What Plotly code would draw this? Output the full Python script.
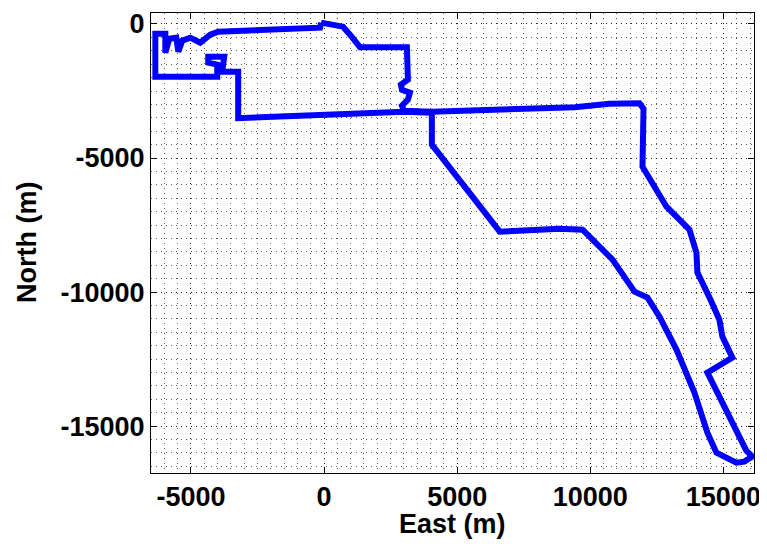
import plotly.graph_objects as go

# Trajectory (metres)
east = [-110, 225, 712, 975, 1350, 3112, 3150, 2887, 2925, 3225, 3150, 2925, 3000,
        4050, 5475, 9412, 10725, 11850, 12000, 11962, 12862, 13725, 13987, 14025,
        14500, 14850, 14962, 15150, 15337, 14400, 15487, 15862, 16087, 15787, 15487,
        14737, 14400, 13912, 13237, 12600, 12150, 11662, 10837, 9712, 8850, 6600,
        4050, 4050, 3000, -150, -3225, -3225, -3825, -3750, -4350, -4350, -4012,
        -4012, -6337, -6337, -5962, -5962, -5812, -5550, -5475, -5325, -5025, -4650,
        -4275, -3975, -2400, -150, -110]
north = [50, -10, -100, -400, -865, -865, -2078, -2264, -2451, -2563, -2824, -3048, -3234,
         -3272, -3215, -3103, -2973, -2954, -3159, -5323, -6815, -7673, -8530, -9276,
         -10250, -11030, -11664, -12100, -12447, -13006, -15244, -15915, -16139, -16326, -16363,
         -15990, -15244, -13752, -12148, -10917, -10208, -9985, -8791, -7672, -7635, -7747,
         -4502, -3309, -3272, -3384, -3514, -1779, -1779, -1220, -1220, -1443, -1518,
         -1966, -1966, -362, -362, -1070, -548, -511, -1033, -623, -511, -698,
         -399, -287, -213, -138, 50]

x_tickvals = [-5000, 0, 5000, 10000, 15000]
x_ticktext = ["-5000", "0", "5000", "10000", "15000"]
y_tickvals = [0, -5000, -10000, -15000]
y_ticktext = ["0", "-5000", "-10000", "-15000"]

x_title = "East (m)"
y_title = "North (m)"

font = dict(family="Liberation Sans, Arial, sans-serif", size=27, color="black", weight="bold")
dash = "1px,4px"
gcol = "rgba(0,0,0,0.65)"

fig = go.Figure()
fig.add_trace(go.Scatter(x=east, y=north, mode="lines",
                         line=dict(color="rgb(0,0,255)", width=6),
                         showlegend=False, hoverinfo="skip"))

axis_common = dict(
    showline=True, linecolor="black", linewidth=1, mirror="ticks",
    ticks="inside", ticklen=6, tickcolor="black", tickwidth=1,
    showgrid=True, gridcolor=gcol, gridwidth=1, griddash=dash,
    zeroline=False, tickfont=font, automargin=False,
    minor=dict(dtick=500, tick0=0, showgrid=True, gridcolor=gcol,
               gridwidth=1, griddash=dash, ticks=""),
)

fig.update_xaxes(range=[-6500, 16150], tickmode="array", tickvals=x_tickvals,
                 ticktext=x_ticktext, ticklabelstandoff=0, **axis_common)
fig.update_yaxes(range=[-16750, 410], tickmode="array", tickvals=y_tickvals,
                 ticktext=y_ticktext, ticklabelstandoff=0, **axis_common)

fig.add_annotation(text=x_title, xref="paper", yref="paper", x=0.5, y=0,
                   xanchor="center", yanchor="middle", yshift=-51,
                   showarrow=False, font=font)
fig.add_annotation(text=y_title, xref="paper", yref="paper", x=0, y=0.5,
                   xanchor="center", yanchor="middle", xshift=-124, textangle=-90,
                   showarrow=False, font=font)

fig.update_layout(
    width=759, height=538,
    margin=dict(l=143, r=13, t=5, b=73),
    paper_bgcolor="white", plot_bgcolor="white",
    font=font,
)

fig.write_html("out.html")
